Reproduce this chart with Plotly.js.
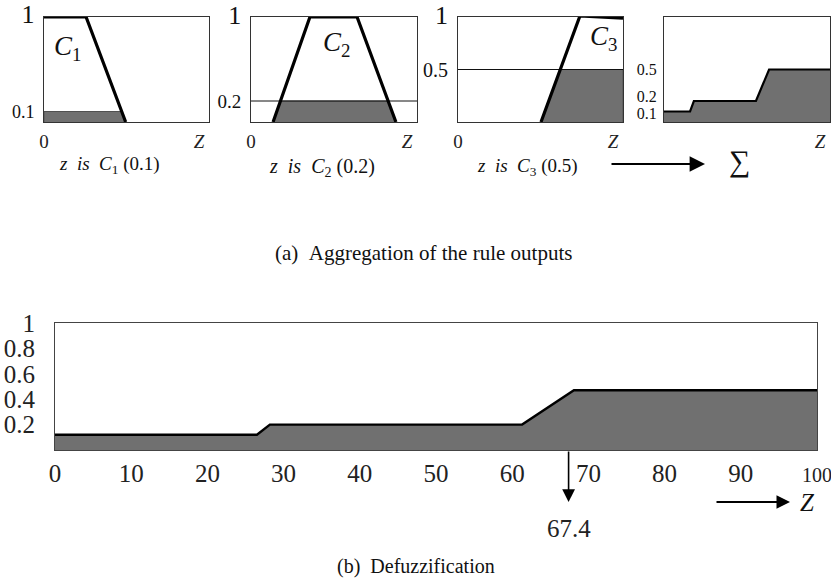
<!DOCTYPE html>
<html><head><meta charset="utf-8">
<script src="https://cdn.plot.ly/plotly-3.0.1.min.js"></script>
<style>html,body{margin:0;padding:0;background:#fff}#chart{width:831px;height:579px}</style>
</head><body><div id="chart"></div>
<script>
// ---- data ----
// Rule 1: C1 membership and its 0.1 cut
const c1Z = [0, 25.5, 49.5];
const c1Mu = [1, 1, 0];
const c1CutZ = [0, 0, 47, 49.5];
const c1CutMu = [0, 0.1, 0.1, 0];
const c1Strength = 0.1;
// Rule 2: C2 membership and its 0.2 cut
const c2Z = [13.3, 35.5, 63.9, 87.3];
const c2Mu = [0, 1, 1, 0];
const c2CutZ = [13.3, 17.7, 82.6, 87.3];
const c2CutMu = [0, 0.2, 0.2, 0];
const c2Strength = 0.2;
// Rule 3: C3 membership and its 0.5 cut
const c3Z = [50.3, 73.9, 100];
const c3Mu = [0, 1.01, 0.99];
const c3CutZ = [50.3, 62.1, 100, 100];
const c3CutMu = [0, 0.5, 0.5, 0];
const c3Strength = 0.5;
// Aggregated (small panel)
const aggSmallZ = [0, 15.7, 18, 55.4, 63.3, 100];
const aggSmallMu = [0.1, 0.1, 0.2, 0.2, 0.5, 0.5];
const aggSmallLabelPos = [0.08, 0.245, 0.5];
const aggSmallLabels = ['0.1', '0.2', '0.5'];
// Aggregated (defuzzification panel)
const aggZ = [0, 26.5, 28.2, 61.3, 68.1, 100];
const aggMu = [0.12, 0.12, 0.2, 0.2, 0.47, 0.47];
const centroid = 67.4;
// tick labels
const zTicks = [0, 10, 20, 30, 40, 50, 60, 70, 80, 90, 100];
const zTickText = ['0','10','20','30','40','50','60','70','80','90','<span style="font-size:20px">100</span>'];
const muTicks = [0.2, 0.4, 0.6, 0.8, 1];
const muTickText = ['0.2','0.4','0.6','0.8','1'];
const zLabelPos = 94;

// ---- layout helpers ----
const W = 831, H = 579;
const px = x => x / W;
const py = y => 1 - y / H;
const serif = 'Liberation Serif, Times New Roman, serif';
const shade = '#707070';

const traces = [];
function panel(ax, cutZ, cutMu, memZ, memMu, cutLevel) {
  const xa = 'x' + ax, ya = 'y' + ax;
  traces.push({x: cutZ, y: cutMu, xaxis: xa, yaxis: ya, mode: 'lines', fill: 'toself',
    fillcolor: shade, line: {color: '#505050', width: 1}, hoverinfo: 'skip'});
  if (cutLevel !== null) {
    traces.push({x: [0, 100], y: [cutLevel, cutLevel], xaxis: xa, yaxis: ya, mode: 'lines',
      line: {color: '#111', width: 1}, hoverinfo: 'skip'});
  }
  traces.push({x: memZ, y: memMu, xaxis: xa, yaxis: ya, mode: 'lines',
    line: {color: '#000', width: 3.2}, hoverinfo: 'skip'});
}
panel('', c1CutZ, c1CutMu, c1Z, c1Mu, null);
panel('2', c2CutZ, c2CutMu, c2Z, c2Mu, c2Strength);
panel('3', c3CutZ, c3CutMu, c3Z, c3Mu, c3Strength);
traces.push({x: aggSmallZ, y: aggSmallMu, xaxis: 'x4', yaxis: 'y4', mode: 'lines', fill: 'tozeroy',
  fillcolor: shade, line: {color: '#000', width: 2.2}, hoverinfo: 'skip'});
traces.push({x: aggZ, y: aggMu, xaxis: 'x5', yaxis: 'y5', mode: 'lines', fill: 'tozeroy',
  fillcolor: shade, line: {color: '#000', width: 2.4}, hoverinfo: 'skip'});

const boxLine = {showline: true, mirror: true, linecolor: '#333', linewidth: 1, zeroline: false,
  showgrid: false, ticks: '', fixedrange: true, ticklabeloverflow: 'allow'};
function topX(left, right, showZero) {
  return Object.assign({}, boxLine, {domain: [px(left), px(right)], range: [0, 100],
    tickvals: showZero ? [0, zLabelPos] : [zLabelPos],
    ticktext: showZero ? ['0', '<i>Z</i>'] : ['<i>Z</i>'],
    tickfont: {family: serif, size: 19, color: '#222'}, ticklabelstandoff: 2});
}
function topY(vals, texts, size) {
  return Object.assign({}, boxLine, {domain: [py(122), py(17)], range: [0, 1],
    tickvals: vals, ticktext: texts, tickfont: {family: serif, size: size, color: '#111'},
    ticklabelstandoff: 5});
}
const one = '<span style="font-size:26px">1</span>';

function note(text, x, y, size, extra) {
  return Object.assign({text: text, x: px(x), y: py(y), xref: 'paper', yref: 'paper', showarrow: false,
    xanchor: 'center', yanchor: 'middle', font: {family: serif, size: size, color: '#111'}}, extra || {});
}
function arrow(x, y, len, width, size) {
  return {text: '', x: px(x), y: py(y), xref: 'paper', yref: 'paper', ax: -len, ay: 0,
    showarrow: true, arrowhead: 2, arrowsize: size, arrowwidth: width, arrowcolor: '#000'};
}

const layout = {
  width: W, height: H, margin: {l: 0, r: 0, t: 0, b: 0},
  paper_bgcolor: '#fff', plot_bgcolor: '#fff', showlegend: false,
  xaxis: topX(44, 209, true),
  yaxis: Object.assign(topY([c1Strength, 1], ['0.1', one], 18), {anchor: 'x'}),
  xaxis2: Object.assign(topX(251, 417, true), {anchor: 'y2'}),
  yaxis2: Object.assign(topY([c2Strength, 1], ['0.2', one], 19), {anchor: 'x2'}),
  xaxis3: Object.assign(topX(458, 623, true), {anchor: 'y3'}),
  yaxis3: Object.assign(topY([c3Strength, 1], ['0.5', one], 20), {anchor: 'x3'}),
  xaxis4: Object.assign(topX(664, 830, false), {anchor: 'y4'}),
  yaxis4: Object.assign(topY(aggSmallLabelPos, aggSmallLabels, 16), {anchor: 'x4',
    ticklabelstandoff: 3}),
  xaxis5: Object.assign({}, boxLine, {domain: [px(55), px(817)], range: [0, 100], anchor: 'y5',
    linecolor: '#444', tickvals: zTicks, ticktext: zTickText,
    tickfont: {family: serif, size: 25, color: '#222'}, ticklabelstandoff: 1}),
  yaxis5: Object.assign({}, boxLine, {domain: [py(450), py(323)], range: [0, 1], anchor: 'x5',
    linecolor: '#444', tickvals: muTicks, ticktext: muTickText,
    tickfont: {family: serif, size: 25, color: '#222'}, ticklabelstandoff: 14}),
  annotations: [
    note('<i>C</i><sub>1</sub>', 67, 48, 27),
    note('<i>C</i><sub>2</sub>', 336, 44, 27),
    note('<i>C</i><sub>3</sub>', 603, 38, 27),
    note('<i>z</i>&nbsp;&nbsp;<i>is</i>&nbsp;&nbsp;<i>C</i><sub>1</sub> (0.1)', 109, 165, 19),
    note('<i>z</i>&nbsp;&nbsp;<i>is</i>&nbsp;&nbsp;<i>C</i><sub>2</sub> (0.2)', 322, 168, 20),
    note('<i>z</i>&nbsp;&nbsp;<i>is</i>&nbsp;&nbsp;<i>C</i><sub>3</sub> (0.5)', 527, 167, 19),
    arrow(705, 164, 95, 2.2, 1.4),
    note('\u2211', 739, 161, 30),
    note('(a)&nbsp;&nbsp;Aggregation of the rule outputs', 423, 253, 21),
    {text: '', x: centroid, y: -0.41, xref: 'x5', yref: 'y5', axref: 'x5', ayref: 'y5',
      ax: centroid, ay: 0, showarrow: true, arrowhead: 2, arrowsize: 1.6, arrowwidth: 1.6, arrowcolor: '#000'},
    {text: String(centroid), x: centroid, y: py(528), xref: 'x5', yref: 'paper', showarrow: false,
      xanchor: 'center', yanchor: 'middle', font: {family: serif, size: 25, color: '#222'}},
    arrow(790, 502, 75, 1.8, 1.5),
    note('<i>Z</i>', 807, 502, 25),
    note('(b)&nbsp;&nbsp;Defuzzification', 416, 566, 20)
  ]
};
Plotly.newPlot('chart', traces, layout, {staticPlot: true, displayModeBar: false});
</script>
</body></html>
